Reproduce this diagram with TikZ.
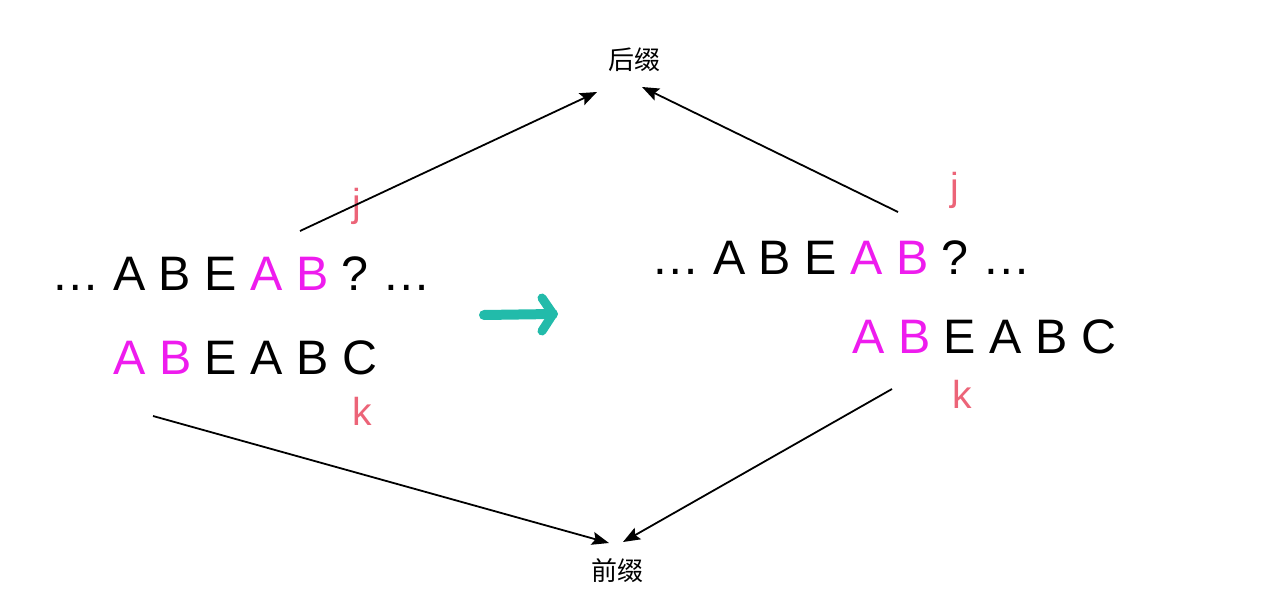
\documentclass[tikz,border=0pt]{standalone}
\usepackage{fontspec}
\setmainfont{Liberation Sans}
\newfontfamily\cjk{Noto Sans CJK SC}
\usetikzlibrary{arrows.meta}
\definecolor{mag}{HTML}{EE1CEE}
\definecolor{idx}{HTML}{EC6478}
\definecolor{teal2}{HTML}{22BBAA}
\begin{document}
\begin{tikzpicture}[x=0.5pt,y=-0.5pt,
  row/.style={inner sep=0pt,anchor=base west,font=\fontsize{24.2pt}{28pt}\selectfont},
  ptr/.style={inner sep=0pt,anchor=base west,text=idx,font=\fontsize{19.5pt}{22pt}\selectfont},
  lbl/.style={inner sep=0pt,font=\cjk\fontsize{13pt}{15pt}\selectfont},
  conn/.style={line width=0.9pt,-{Stealth[length=8.5pt,width=6.5pt,inset=1.5pt]}}]
\useasboundingbox (0,0) rectangle (1280,599);
% left
\node[row] (l1) at (51,290) {… A B E \textcolor{mag}{A B} ? …};
\node[row] (l2) at (113,374) {\textcolor{mag}{A B} E A B C};
\node[ptr] (lj) at (352,216) {j};
\node[ptr] (lk) at (352,425) {k};
% right
\node[row] (r1) at (651,274) {… A B E \textcolor{mag}{A B} ? …};
\node[row] (r2) at (852,353) {\textcolor{mag}{A B} E A B C};
\node[ptr] (rj) at (950,200) {j};
\node[ptr] (rk) at (952,408) {k};
% labels
\node[lbl] (suf) at (634,60) {后缀};
\node[lbl] (pre) at (617,571) {前缀};
% connector endpoints
\coordinate (a1) at (300,231);
\coordinate (a1t) at (597,92);
\coordinate (a2) at (898,212);
\coordinate (a2t) at (642,87);
\coordinate (a3) at (153,416);
\coordinate (a3t) at (609,543);
\coordinate (a4) at (892,389);
\coordinate (a4t) at (623,542);
\draw[conn] (a1) -- (a1t);
\draw[conn] (a2) -- (a2t);
\draw[conn] (a3) -- (a3t);
\draw[conn] (a4) -- (a4t);
% teal arrow
\coordinate (t0) at (484,315);
\coordinate (t1) at (553,314);
\coordinate (tu) at (542,298);
\coordinate (td) at (542,331);
\draw[teal2,line width=5pt,line cap=round] (t0) -- (t1);
\draw[teal2,line width=4.5pt,line cap=round,line join=round] (tu) -- (t1) -- (td);
\end{tikzpicture}
\end{document}
